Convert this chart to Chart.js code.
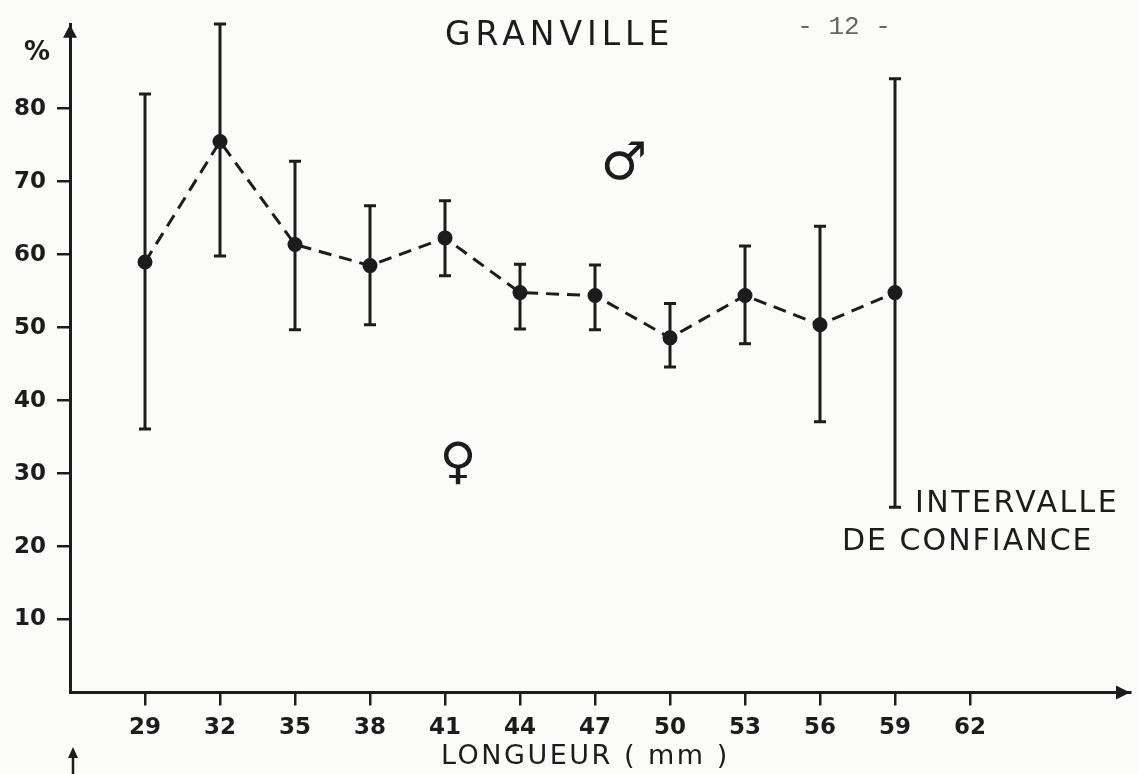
<!DOCTYPE html>
<html>
<head>
<meta charset="utf-8">
<title>Granville</title>
<script src="https://cdn.jsdelivr.net/npm/chart.js@4/dist/chart.umd.min.js"></script>
<style>
    body { margin: 0; background: #fbfbf9; }
    #wrap { position: relative; width: 1139px; height: 774px; }
</style>
</head>
<body>
<div id="wrap"><canvas id="myChart"></canvas></div>
<script>
// longueur (mm) et % de males, avec bornes de l'intervalle de confiance
var longueurs = [29, 32, 35, 38, 41, 44, 47, 50, 53, 56, 59];
var pourcentages = [59.0, 75.5, 61.4, 58.5, 62.3, 54.8, 54.4, 48.6, 54.4, 50.4, 54.8];
var bornesHautes = [82.0, 91.6, 72.8, 66.7, 67.4, 58.7, 58.6, 53.3, 61.2, 63.9, 84.1];
var bornesBasses = [36.1, 59.8, 49.7, 50.4, 57.1, 49.8, 49.7, 44.6, 47.8, 37.1, 25.4];

var ticksX = [29, 32, 35, 38, 41, 44, 47, 50, 53, 56, 59, 62];
var ticksY = [10, 20, 30, 40, 50, 60, 70, 80];

var encre = '#1c1c1c';
var police = "'DejaVu Sans', sans-serif";

function texte(ctx, str, x, y, taille, espace, align, gras) {
    ctx.save();
    ctx.font = (gras ? 'bold ' : '') + taille + 'px ' + police;
    ctx.letterSpacing = espace + 'px';
    ctx.fillStyle = encre;
    ctx.textAlign = align || 'left';
    ctx.textBaseline = 'alphabetic';
    ctx.fillText(str, x, y);
    ctx.restore();
}

var annotations = {
    id: 'annotations',
    afterDatasetsDraw: function(chart) {
        var ctx = chart.ctx;
        var xs = chart.scales.x;
        var ys = chart.scales.y;
        ctx.save();
        ctx.strokeStyle = encre;
        ctx.lineWidth = 3;
        longueurs.forEach(function(l, i) {
            var x = xs.getPixelForValue(l);
            var yh = ys.getPixelForValue(bornesHautes[i]);
            var yb = ys.getPixelForValue(bornesBasses[i]);
            ctx.beginPath();
            ctx.moveTo(x, yh);
            ctx.lineTo(x, yb);
            ctx.moveTo(x - 6, yh);
            ctx.lineTo(x + 6, yh);
            ctx.moveTo(x - 6, yb);
            ctx.lineTo(x + 6, yb);
            ctx.stroke();
        });
        ctx.restore();
    },
    afterDraw: function(chart) {
        var ctx = chart.ctx;
        var a = chart.chartArea;
        ctx.save();
        ctx.fillStyle = encre;
        // fleche axe vertical
        ctx.beginPath();
        ctx.moveTo(a.left, a.top);
        ctx.lineTo(a.left - 7, a.top + 13);
        ctx.lineTo(a.left + 7, a.top + 13);
        ctx.closePath();
        ctx.fill();
        // fleche axe horizontal
        ctx.beginPath();
        ctx.moveTo(a.right, a.bottom);
        ctx.lineTo(a.right - 14, a.bottom - 7);
        ctx.lineTo(a.right - 14, a.bottom + 7);
        ctx.closePath();
        ctx.fill();
        // petite fleche en bas a gauche
        ctx.beginPath();
        ctx.moveTo(73, 747);
        ctx.lineTo(68, 758);
        ctx.lineTo(78, 758);
        ctx.closePath();
        ctx.fill();
        ctx.strokeStyle = encre;
        ctx.lineWidth = 2.5;
        ctx.beginPath();
        ctx.moveTo(73, 755);
        ctx.lineTo(73, 774);
        ctx.stroke();
        ctx.restore();

        texte(ctx, '%', 37, 60, 26, 0, 'center', true);
        texte(ctx, 'GRANVILLE', 445, 45, 33, 5);
        texte(ctx, 'LONGUEUR ( mm )', 441, 764, 27, 2.5);
        texte(ctx, 'INTERVALLE', 915, 512, 30, 2.5);
        texte(ctx, 'DE CONFIANCE', 842, 550, 30, 2);
        texte(ctx, '\u2642', 624, 179, 52, 0, 'center');
        texte(ctx, '\u2640', 458, 478, 50, 0, 'center');

        ctx.save();
        ctx.font = "26px 'Liberation Mono', monospace";
        ctx.fillStyle = '#666';
        ctx.textAlign = 'center';
        ctx.fillText('- 12 -', 844, 34);
        ctx.restore();
    }
};

window.onload = function() {
    var points = longueurs.map(function(l, i) {
        return { x: l, y: pourcentages[i] };
    });

    var ctx = document.getElementById('myChart').getContext('2d');
    var myChart = new Chart(ctx, {
        type: 'scatter',
        data: {
            datasets: [{
                label: '% males',
                data: points,
                showLine: true,
                borderColor: encre,
                borderWidth: 3,
                borderDash: [13, 8],
                pointRadius: 6,
                pointBackgroundColor: encre,
                pointBorderColor: encre,
                clip: false
            }]
        },
        options: {
            responsive: true,
            maintainAspectRatio: false,
            animation: false,
            layout: { padding: { top: 14.5, right: 9, left: 0, bottom: 0 } },
            plugins: {
                legend: { display: false },
                tooltip: { enabled: false }
            },
            scales: {
                x: {
                    type: 'linear',
                    min: 26,
                    max: 68.4,
                    afterFit: function(scale) { scale.height = 81.5; },
                    afterBuildTicks: function(scale) {
                        scale.ticks = ticksX.map(function(v) { return { value: v }; });
                    },
                    border: { display: true, color: encre, width: 3 },
                    grid: { drawOnChartArea: false, drawTicks: true, tickLength: 13, color: encre, lineWidth: 2.5 },
                    ticks: {
                        color: encre,
                        padding: 9,
                        maxRotation: 0,
                        font: { family: police, size: 23, weight: 'bold' },
                        callback: function(v) { return String(v); }
                    }
                },
                y: {
                    min: 0,
                    max: 91.5,
                    afterFit: function(scale) { scale.width = 70; },
                    afterBuildTicks: function(scale) {
                        scale.ticks = ticksY.map(function(v) { return { value: v }; });
                    },
                    border: { display: true, color: encre, width: 3 },
                    grid: { drawOnChartArea: false, drawTicks: true, tickLength: 13, color: encre, lineWidth: 2.5 },
                    ticks: {
                        color: encre,
                        padding: 11,
                        font: { family: police, size: 23, weight: 'bold' },
                        callback: function(v) { return String(v); }
                    }
                }
            }
        },
        plugins: [annotations]
    });
};
</script>
</body>
</html>
